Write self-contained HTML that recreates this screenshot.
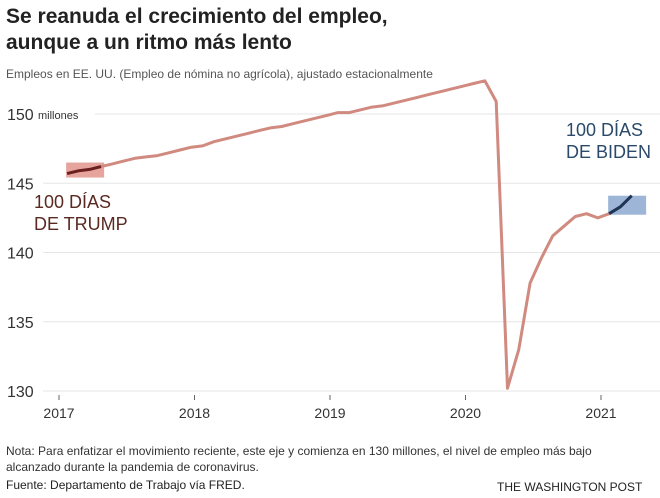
<!DOCTYPE html>
<html><head><meta charset="utf-8"><style>
body{margin:0;background:#fff;font-family:"Liberation Sans",sans-serif;}
#wrap{position:relative;width:660px;height:498px;overflow:hidden}
.t{position:absolute;white-space:nowrap}
</style></head><body>
<div id="wrap">
<div class="t" style="left:6px;top:4px;font-size:21px;font-weight:bold;color:#222;line-height:26px">Se reanuda el crecimiento del empleo,<br>aunque a un ritmo más lento</div>
<div class="t" style="left:6px;top:67px;font-size:12px;color:#555">Empleos en EE. UU. (Empleo de nómina no agrícola), ajustado estacionalmente</div>
<svg id="chart" width="660" height="498" style="position:absolute;left:0;top:0"></svg>
<div class="t" style="left:6px;top:443px;font-size:12px;color:#333;line-height:16px">Nota: Para enfatizar el movimiento reciente, este eje y comienza en 130 millones, el nivel de empleo más bajo<br>alcanzado durante la pandemia de coronavirus.</div>
<div class="t" style="left:6px;top:478px;font-size:12px;color:#222">Fuente: Departamento de Trabajo vía FRED.</div>
<div class="t" style="left:497px;top:480px;font-size:12px;color:#222">THE WASHINGTON POST</div>
</div>
<script>
const values=[145.7,145.9,146.0,146.2,146.4,146.6,146.8,146.9,147.0,147.2,147.4,147.6,
147.7,148.0,148.2,148.4,148.6,148.8,149.0,149.1,149.3,149.5,149.7,149.9,
150.1,150.1,150.3,150.5,150.6,150.8,151.0,151.2,151.4,151.6,151.8,152.0,
152.2,152.4,150.9,130.2,133.0,137.8,139.6,141.2,141.9,142.6,142.8,142.5,
142.8,143.3,144.1];
const yTicks=[130,135,140,145,150];
const xTicks=[2017,2018,2019,2020,2021];
const trumpIdx=[0,3];
const bidenIdx=[48,50];
const NS="http://www.w3.org/2000/svg";
const svg=document.getElementById('chart');
const xs=yr=>59+(yr-2017)*135.5;
const ys=v=>391-(v-130)*13.85;
const monthX=i=>xs(2017+i/12+0.06);
function mk(tag,attrs){const e=document.createElementNS(NS,tag);for(const k in attrs)e.setAttribute(k,attrs[k]);svg.appendChild(e);return e;}
yTicks.forEach(v=>{
 const g=mk('line',{x1:v===150?95:43,x2:660,y1:ys(v),y2:ys(v),stroke:'#e6e6e6','stroke-width':1});
 
 
 const t=mk('text',{x:7,y:ys(v)+6,'font-size':16,fill:'#333','font-family':'Liberation Sans'});
 t.textContent=v;
 
 
 if(v===150){const m=mk('text',{x:38,y:ys(v)+5,'font-size':11,fill:'#333','font-family':'Liberation Sans'});m.textContent='millones';
 
 }
});
xTicks.forEach(y=>{
 const l=mk('line',{x1:xs(y),x2:xs(y),y1:395,y2:400,stroke:'#666'});
 
 
 const t=mk('text',{x:xs(y),y:418,'font-size':14,fill:'#333','text-anchor':'middle','font-family':'Liberation Sans'});
 t.textContent=y;
 
 
});
const r1=mk('rect',{x:monthX(trumpIdx[0])-1,y:ys(values[trumpIdx[0]])-11,width:38,height:15,fill:'#e0958c',opacity:0.85});


const r2=mk('rect',{x:monthX(bidenIdx[0])-1,y:ys(values[bidenIdx[1]]),width:38,height:19,fill:'#9db6d8'});


const pts=values.map((v,i)=>monthX(i).toFixed(1)+','+ys(v).toFixed(1));
const line=mk('polyline',{points:pts.join(' '),fill:'none',stroke:'#d08a7f','stroke-width':3,'stroke-linejoin':'round'});


const tl=mk('polyline',{points:pts.slice(trumpIdx[0],trumpIdx[1]+1).join(' '),fill:'none',stroke:'#6b1f1f','stroke-width':3});


const bl=mk('polyline',{points:pts.slice(bidenIdx[0],bidenIdx[1]+1).join(' '),fill:'none',stroke:'#1d3557','stroke-width':3});


[['100 DÍAS',34,208,'#5a2a22','trump-label'],['DE TRUMP',34,230,'#5a2a22','trump-label'],['100 DÍAS',566,136,'#2b4a6b','biden-label'],['DE BIDEN',566,158,'#2b4a6b','biden-label']].forEach(a=>{
 const t=mk('text',{x:a[1],y:a[2],'font-size':18,fill:a[3],'font-family':'Liberation Sans'});
 t.textContent=a[0];
 
 
});
</script>
</body></html>
